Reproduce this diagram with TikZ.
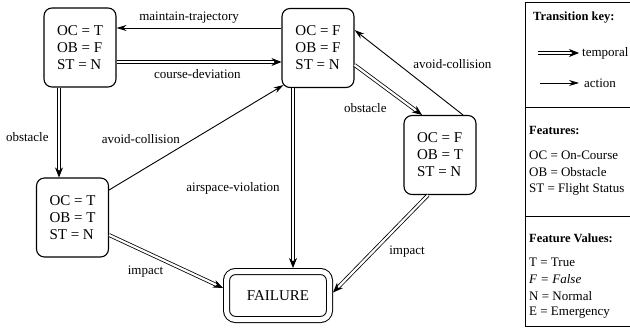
\documentclass[tikz,border=0pt]{standalone}
\usepackage{fontspec}
\setmainfont{Liberation Serif}
\usetikzlibrary{arrows.meta}

\tikzset{
  state/.style={draw, line width=1.1pt, rounded corners=8pt, minimum width=72pt,
    minimum height=79pt, align=left, inner sep=2pt, font=\fontsize{15}{17}\selectfont},
  fail/.style={draw, double, double distance=5pt, line width=1pt, rounded corners=9pt,
    minimum width=103pt, minimum height=48pt, outer sep=3.5pt, font=\fontsize{15}{17}\selectfont},
  temporal/.style={double, double distance=2.2pt, line width=0.8pt, -{Stealth[length=10pt, width=8pt]}},
  action/.style={line width=0.9pt, -{Stealth[length=10pt, width=6pt]}},
  elabel/.style={font=\fontsize{13}{15}\selectfont, inner sep=1pt},
  keytext/.style={anchor=west, inner sep=0pt, font=\fontsize{13}{15}\selectfont},
  keyhead/.style={anchor=west, inner sep=0pt, font=\fontsize{12.5}{15}\selectfont\bfseries},
}

\begin{document}
\begin{tikzpicture}[x=1pt, y=-1pt]
  \useasboundingbox (0,0) rectangle (630,329);

  % states
  \node[state] (A) at (80,47.5) {OC = T\\OB = F\\ST = N};
  \node[state] (B) at (318,48) {OC = F\\OB = F\\ST = N};
  \node[state] (C) at (440,155) {OC = F\\OB = T\\ST = N};
  \node[state] (D) at (72.5,217.5) {OC = T\\OB = T\\ST = N};
  \node[fail] (F) at (278,295.5) {FAILURE};

  % transitions
  \draw[action] ([yshift=20pt]B.west) -- ([yshift=19.5pt]A.east)
    node[elabel, above=3pt, pos=0.56] {maintain-trajectory};
  \draw[temporal] ([yshift=-14.5pt]A.east) -- ([yshift=-14pt]B.west)
    node[elabel, below=6pt, pos=0.49] {course-deviation};
  \draw[temporal] ([xshift=-21pt]A.south) -- ([xshift=-21pt]A.south |- D.north)
    node[elabel, left=9pt, pos=0.55] {obstacle};
  \draw[action] ([yshift=27.5pt]D.east) -- ([shift={(2pt,3pt)}]B.south west)
    node[elabel, pos=0.42, above left=1pt] {avoid-collision};
  \draw[temporal] ([xshift=-25pt]B.south) -- ([xshift=-25pt]B.south |- F.north)
    node[elabel, left=12pt, pos=0.56] {airspace-violation};
  \draw[temporal] ([yshift=-17pt]B.east) -- ([xshift=-18pt]C.north)
    node[elabel, pos=0.6, below left=7pt] {obstacle};
  \draw[action] ([xshift=23pt]C.north) -- ([yshift=18pt]B.east)
    node[elabel, pos=0.6, right=14pt] {avoid-collision};
  \draw[temporal] ([xshift=-12pt]C.south) -- ([yshift=3pt]F.east)
    node[elabel, pos=0.58, right=15pt] {impact};
  \draw[temporal] ([yshift=-17.5pt]D.east) -- ([yshift=7.5pt]F.west)
    node[elabel, pos=0.32, below=13pt] {impact};

  % key
  \draw[line width=1pt] (525,3) rectangle (645,326);
  \draw[line width=1pt] (525,108) -- (645,108);
  \draw[line width=1pt] (525,216) -- (645,216);
  \node[keyhead] (ktitle) at (533,18) {Transition key:};
  \node[keytext] (ktemp) at (582,53) {temporal};
  \node[keytext] (kact) at (584,83) {action};
  \coordinate (ktempS) at (538,53);
  \coordinate (kactS) at (540,83);
  \draw[temporal] (ktempS) -- ([xshift=-3pt]ktemp.west);
  \draw[action] (kactS) -- ([xshift=-5pt]kact.west);
  \node[keyhead] (kfeat) at (529,130) {Features:};
  \node[keytext] (koc) at (529,155) {OC = On-Course};
  \node[keytext] (kob) at (529,172) {OB = Obstacle};
  \node[keytext] (kst) at (529,189) {ST = Flight Status};
  \node[keyhead] (kval) at (529,238) {Feature Values:};
  \node[keytext] (kt) at (529,262) {T = True};
  \node[keytext] (kf) at (529,279) {\itshape F = False};
  \node[keytext] (kn) at (529,296) {N = Normal};
  \node[keytext] (ke) at (529,313) {E = Emergency};
\end{tikzpicture}
\end{document}
